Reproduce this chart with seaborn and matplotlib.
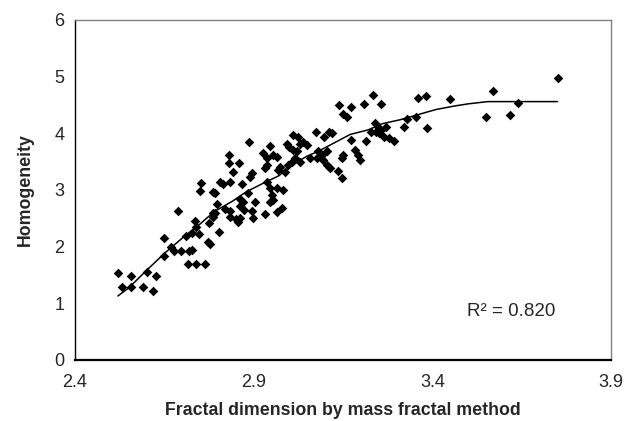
import matplotlib
matplotlib.use("Agg")
import matplotlib.pyplot as plt
import seaborn as sns
import pandas as pd

# scatter data: fractal dimension (x) vs homogeneity (y)
x_pts = [
    2.519, 2.557, 2.601, 2.626, 2.532, 2.557, 2.591, 2.617, 2.648, 2.650,
    2.687, 2.668, 2.678, 2.698, 2.719, 2.728, 2.711, 2.728, 2.747, 2.735,
    2.738, 2.715, 2.738, 2.765, 2.775, 2.773, 2.778, 2.787,
    2.887, 2.947, 2.831, 2.831, 2.858, 2.926, 2.936, 2.938, 2.931, 2.954,
    2.966, 2.841, 2.894, 2.889, 2.754, 2.751, 2.805, 2.815, 2.835, 2.866,
    2.785, 2.791, 2.938, 2.884, 2.945, 2.950, 2.954, 2.947, 2.966, 2.796,
    2.819, 2.833, 2.861, 2.871, 2.863, 2.872, 2.903, 2.894, 2.899, 2.933,
    2.964, 2.833, 2.850, 2.861, 2.857, 2.791, 2.787, 2.803,
    2.973, 2.997, 2.987, 2.968, 2.982, 2.978,
    2.992, 3.000, 3.010, 3.020, 3.010, 3.024, 3.029, 3.038, 3.048, 3.074,
    3.096, 3.111, 3.118, 3.139, 3.173, 3.150, 3.161, 3.173, 3.080, 3.090,
    3.076, 3.150, 3.146, 3.183, 3.192, 3.197, 3.057, 3.094, 3.104, 3.113,
    3.136, 3.148, 3.006, 3.015, 3.029, 3.104,
    3.234, 3.208, 3.255, 3.360, 3.381, 3.450, 3.239, 3.248, 3.257, 3.241,
    3.229, 3.252, 3.271, 3.266, 3.280, 3.294, 3.214, 3.320, 3.329, 3.355,
    3.385,
    3.569, 3.551, 3.616, 3.641, 3.751,
]
y_pts = [
    1.53, 1.49, 1.56, 1.49, 1.28, 1.29, 1.28, 1.22, 1.84, 2.16,
    2.63, 2.00, 1.93, 1.93, 1.92, 1.94, 2.19, 2.24, 2.22, 2.45,
    2.35, 1.69, 1.69, 1.69, 2.41, 2.09, 2.04, 2.59,
    3.85, 3.78, 3.62, 3.48, 3.48, 3.66, 3.56, 3.44, 3.38, 3.62,
    3.59, 3.32, 3.30, 3.23, 3.13, 2.98, 3.15, 3.11, 3.15, 3.11,
    2.97, 2.94, 3.15, 2.94, 3.03, 2.91, 2.82, 2.79, 3.03, 2.75,
    2.66, 2.63, 2.85, 2.79, 2.71, 2.65, 2.79, 2.63, 2.50, 2.57,
    2.62, 2.53, 2.48, 2.50, 2.44, 2.59, 2.53, 2.26,
    3.41, 3.44, 3.32, 3.35, 3.00, 2.68,
    3.82, 3.76, 3.71, 3.68, 3.97, 3.94, 3.82, 3.85, 3.79, 4.03,
    3.94, 4.03, 4.00, 4.50, 4.46, 4.35, 4.29, 3.88, 3.68, 3.62,
    3.56, 3.62, 3.56, 3.71, 3.62, 3.53, 3.56, 3.53, 3.44, 3.38,
    3.34, 3.21, 3.50, 3.56, 3.50, 3.68,
    4.68, 4.51, 4.51, 4.63, 4.66, 4.60, 4.19, 4.12, 4.06, 4.03,
    4.03, 4.00, 4.12, 3.94, 3.91, 3.87, 3.87, 4.12, 4.25, 4.28,
    4.09,
    4.75, 4.28, 4.32, 4.54, 4.98,
]

# fitted curve
fit_x = [2.52, 2.55, 2.60, 2.65, 2.70, 2.75, 2.79, 2.84, 2.88, 2.93, 2.97,
         3.01, 3.05, 3.08, 3.14, 3.17, 3.22, 3.26, 3.31, 3.36, 3.41, 3.46,
         3.50, 3.555, 3.64, 3.75]
fit_y = [1.13, 1.27, 1.58, 1.88, 2.15, 2.40, 2.62, 2.80, 2.97, 3.13, 3.25,
         3.45, 3.60, 3.68, 3.88, 3.98, 4.06, 4.17, 4.24, 4.33, 4.42, 4.48,
         4.52, 4.56, 4.56, 4.56]

x_ticks = [2.4, 2.9, 3.4, 3.9]
y_ticks = [0, 1, 2, 3, 4, 5, 6]
r2_label = "R² = 0.820"

sns.set_style("white")
plt.rcParams['font.family'] = ['Liberation Sans', 'DejaVu Sans']

df = pd.DataFrame({"x": x_pts, "y": y_pts})
fit = pd.DataFrame({"x": fit_x, "y": fit_y})

fig = plt.figure(figsize=(6.34, 4.21), dpi=100)
ax = fig.add_axes([75 / 634, 1 - 360 / 421, (611 - 75) / 634, (360 - 20) / 421])

sns.lineplot(data=fit, x="x", y="y", ax=ax, color="black", linewidth=1.1,
             sort=False, estimator=None)
sns.scatterplot(data=df, x="x", y="y", ax=ax, marker="D", s=24,
                color="black", linewidth=0, zorder=3)

ax.set_xlim(2.4, 3.9)
ax.set_ylim(0, 6)
ax.set_xticks(x_ticks)
ax.set_xticklabels([f"{v:.1f}" for v in x_ticks])
ax.set_yticks(y_ticks)
ax.tick_params(axis="both", direction="out", length=5, width=1,
               color="#808080", labelsize=13)
ax.tick_params(axis="x", pad=5)
ax.tick_params(axis="y", pad=2.5)

ax.set_xlabel("Fractal dimension by mass fractal method", fontsize=12.8,
              fontweight="bold", labelpad=8)
ax.set_ylabel("Homogeneity", fontsize=12.8, fontweight="bold", labelpad=15)

for side in ["top", "right"]:
    ax.spines[side].set_color("#808080")
    ax.spines[side].set_linewidth(1)
ax.spines["left"].set_color("black")
ax.spines["left"].set_linewidth(1)
ax.spines["bottom"].set_color("black")
ax.spines["bottom"].set_linewidth(1.6)

ax.text(3.62, 0.85, r2_label, ha="center", va="center", fontsize=13.5)

fig.savefig("out.png", dpi=100, facecolor="white")
